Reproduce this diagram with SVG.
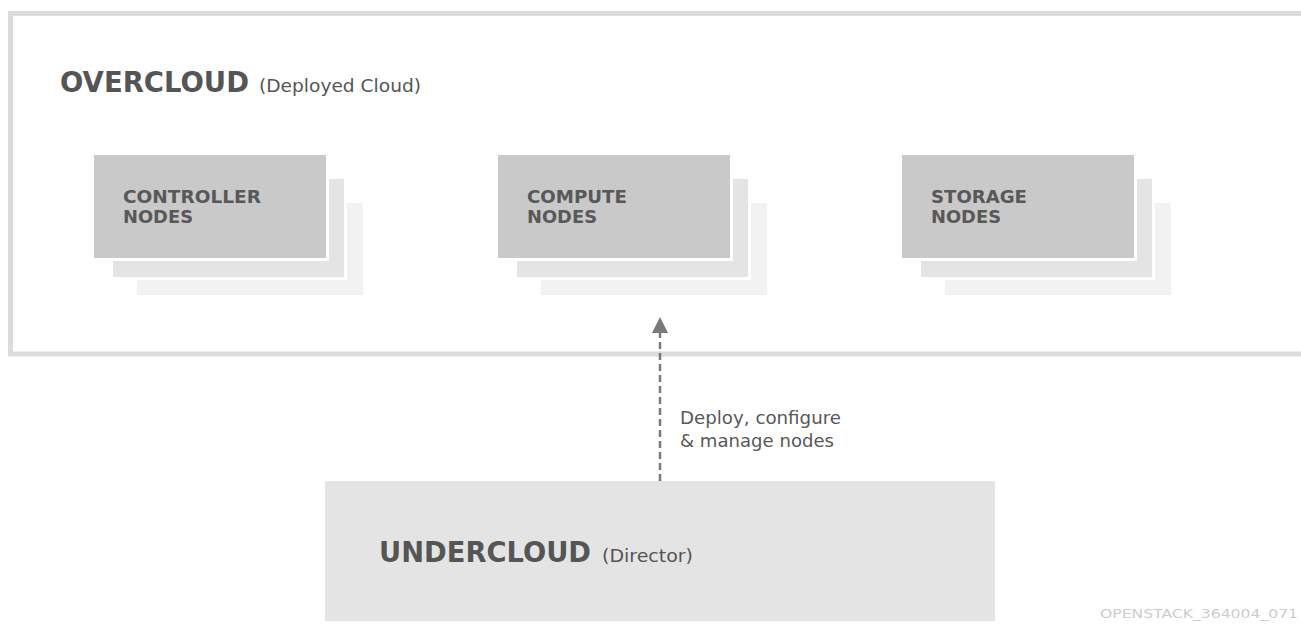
<svg xmlns="http://www.w3.org/2000/svg" width="1301" height="624" viewBox="0 0 1301 624">
<style>
.bg{fill:#ffffff}
.frame{fill:none;stroke:#dcdcdc;stroke-width:5}
.l1{fill:#c9c9c9;stroke:#ffffff;stroke-width:6;paint-order:stroke}
.l2{fill:#e4e4e4;stroke:#ffffff;stroke-width:6;paint-order:stroke}
.l3{fill:#f2f2f2}
.under{fill:#e4e4e4}
.title{font-family:"DejaVu Sans","Noto Sans",sans-serif;font-weight:bold;font-size:27.5px;fill:#555555}
.sub{font-family:"DejaVu Sans","Noto Sans",sans-serif;font-size:18.5px;fill:#555555}
.node{font-family:"DejaVu Sans","Noto Sans",sans-serif;font-weight:bold;font-size:18.5px;fill:#585858}
.lbl{font-family:"DejaVu Sans","Noto Sans",sans-serif;font-size:17px;fill:#585858}
.wm{font-family:"DejaVu Sans","Noto Sans",sans-serif;font-size:13px;fill:#cccccc}
.conn{fill:none;stroke:#7a7a7a;stroke-width:2.5;stroke-dasharray:7,4}
</style>
<defs>
<marker id="ah" markerUnits="userSpaceOnUse" markerWidth="16" markerHeight="16" viewBox="0 0 16 16" refX="15" refY="8" orient="auto">
<path d="M0,0 L16,8 L0,16 Z" fill="#7a7a7a"/>
</marker>
</defs>
<rect class="bg" x="0" y="0" width="1301" height="624"/>

<g id="overcloud">
<rect class="frame" x="10.5" y="13.5" width="1310" height="340.5"/>
<text class="title" x="60" y="92" textLength="189" lengthAdjust="spacingAndGlyphs">OVERCLOUD</text>
<text class="sub" x="259" y="92" textLength="162" lengthAdjust="spacingAndGlyphs">(Deployed Cloud)</text>
</g>

<g id="controller">
<rect class="l3" x="137" y="203" width="226" height="92"/>
<rect class="l2" x="113" y="179" width="231" height="98"/>
<rect class="l1" x="94" y="155" width="232" height="103"/>
<text class="node" x="123" y="203" textLength="138" lengthAdjust="spacingAndGlyphs">CONTROLLER</text>
<text class="node" x="123" y="223" textLength="70" lengthAdjust="spacingAndGlyphs">NODES</text>
</g>

<g id="compute">
<rect class="l3" x="541" y="203" width="226" height="92"/>
<rect class="l2" x="517" y="179" width="231" height="98"/>
<rect class="l1" x="498" y="155" width="232" height="103"/>
<text class="node" x="527" y="203" textLength="100" lengthAdjust="spacingAndGlyphs">COMPUTE</text>
<text class="node" x="527" y="223" textLength="70" lengthAdjust="spacingAndGlyphs">NODES</text>
</g>

<g id="storage">
<rect class="l3" x="945" y="203" width="226" height="92"/>
<rect class="l2" x="921" y="179" width="231" height="98"/>
<rect class="l1" x="902" y="155" width="232" height="103"/>
<text class="node" x="931" y="203" textLength="96" lengthAdjust="spacingAndGlyphs">STORAGE</text>
<text class="node" x="931" y="223" textLength="70" lengthAdjust="spacingAndGlyphs">NODES</text>
</g>

<g id="undercloud">
<rect class="under" x="325" y="481" width="670" height="140"/>
<text class="title" x="379" y="562" textLength="212" lengthAdjust="spacingAndGlyphs">UNDERCLOUD</text>
<text class="sub" x="602" y="562" textLength="91" lengthAdjust="spacingAndGlyphs">(Director)</text>
</g>

<g id="connectors">
<line class="conn" x1="660" y1="481" x2="660" y2="318" marker-end="url(#ah)"/>
<text class="lbl" x="680" y="424" textLength="161" lengthAdjust="spacingAndGlyphs">Deploy, configure</text>
<text class="lbl" x="680" y="447" textLength="154" lengthAdjust="spacingAndGlyphs">&amp; manage nodes</text>
</g>

<text class="wm" x="1100" y="618" textLength="198" lengthAdjust="spacingAndGlyphs">OPENSTACK_364004_071</text>
</svg>
